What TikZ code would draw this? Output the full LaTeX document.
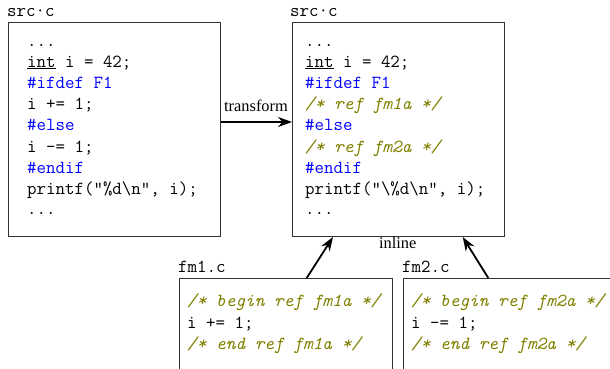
\documentclass[tikz,border=0pt]{standalone}
\usepackage{fontspec}
\newfontfamily\labfont{Liberation Serif}
\usetikzlibrary{arrows.meta}
\definecolor{kw}{RGB}{0,0,255}
\definecolor{cm}{RGB}{128,128,0}
\definecolor{edge}{RGB}{50,50,50}
\tikzset{
  code/.style={anchor=base west, inner sep=0pt, font=\fontsize{18.4}{22}\selectfont\ttfamily},
  kwline/.style={code, text=kw},
  cmline/.style={code, text=cm, font=\fontsize{18.4}{22}\selectfont\ttfamily\itshape},
  filebox/.style={draw=edge, line width=0.9pt},
  lab/.style={anchor=base, inner sep=0pt, font=\fontsize{16.4}{18}\selectfont\labfont},
  arr/.style={line width=1.8pt, -{Stealth[length=14pt,width=10pt]}}
}
\begin{document}
\begin{tikzpicture}[x=1pt,y=-1pt]
\useasboundingbox (0,0) rectangle (610,368);
\clip (0,0) rectangle (610,368);
% boxes
\node[filebox, minimum width=212pt, minimum height=214pt, anchor=north west, inner sep=0pt] (src) at (8,22) {};
\node[filebox, minimum width=212pt, minimum height=214pt, anchor=north west, inner sep=0pt] (dst) at (292,22) {};
\node[filebox, minimum width=213pt, minimum height=120pt, anchor=north west, inner sep=0pt] (fa) at (179,278) {};
\node[filebox, minimum width=213pt, minimum height=120pt, anchor=north west, inner sep=0pt] (fb) at (403,278) {};
% file labels
\node[code] (srclab) at (7,16) {src·c};
\node[code] (dstlab) at (290,16) {src·c};
\node[code] (falab) at (178,272) {fm1.c};
\node[code] (fblab) at (402,272) {fm2.c};
% left code
\node[code] (a1) at (27,46) {...};
\node[code] (a2) at (27,67) {\underline{int} i = 42;};
\node[kwline] (a3) at (27,88.3) {\#ifdef F1};
\node[code] (a4) at (27,109.6) {i += 1;};
\node[kwline] (a5) at (27,130.9) {\#else};
\node[code] (a6) at (27,152.2) {i -= 1;};
\node[kwline] (a7) at (27,173.5) {\#endif};
\node[code] (a8) at (27,194.8) {printf("\%d\textbackslash n", i);};
\node[code] (a9) at (27,214) {...};
% right code
\node[code] (b1) at (305,46) {...};
\node[code] (b2) at (305,67) {\underline{int} i = 42;};
\node[kwline] (b3) at (305,88.3) {\#ifdef F1};
\node[cmline] (b4) at (305,109.6) {/* ref fm1a */};
\node[kwline] (b5) at (305,130.9) {\#else};
\node[cmline] (b6) at (305,152.2) {/* ref fm2a */};
\node[kwline] (b7) at (305,173.5) {\#endif};
\node[code] (b8) at (305,194.8) {printf("\textbackslash\%d\textbackslash n", i);};
\node[code] (b9) at (305,214) {...};
% fm1
\node[cmline] (c1) at (187,306.5) {/* begin ref fm1a */};
\node[code] (c2) at (187,328) {i += 1;};
\node[cmline] (c3) at (187,349.5) {/* end ref fm1a */};
% fm2
\node[cmline] (d1) at (411,306.5) {/* begin ref fm2a */};
\node[code] (d2) at (411,328) {i -= 1;};
\node[cmline] (d3) at (411,349.5) {/* end ref fm2a */};
% connectors
\draw[arr] (src.east |- 0,122) -- (dst.west |- 0,122);
\node[lab] (tlab) at (256,111.8) {transform};
\coordinate (fa1) at (306.7,278);
\coordinate (fa2) at (333,237);
\coordinate (fb1) at (488.3,278);
\coordinate (fb2) at (462.7,237);
\draw[arr] (fa1) -- (fa2);
\draw[arr] (fb1) -- (fb2);
\node[lab] (ilab) at (397.7,248.3) {inline};
\end{tikzpicture}
\end{document}
